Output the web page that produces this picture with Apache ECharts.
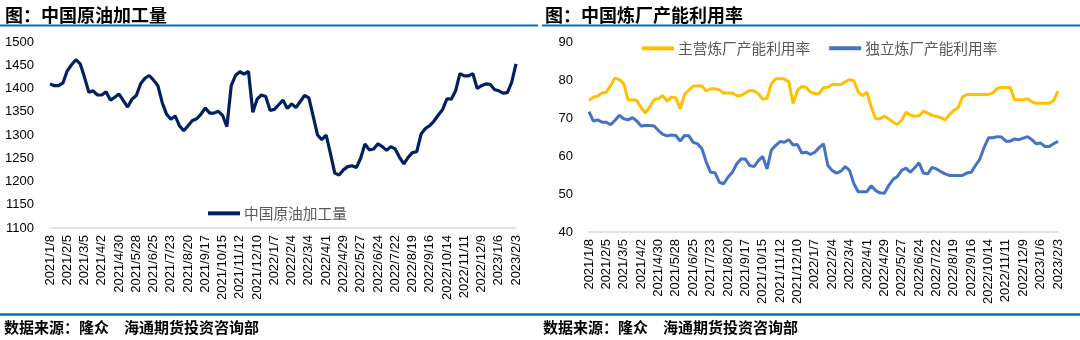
<!DOCTYPE html>
<html>
<head>
<meta charset="utf-8">
<script src="https://cdn.jsdelivr.net/npm/echarts@6/dist/echarts.min.js"></script>
<style>
html,body{margin:0;padding:0;background:#fff;}
#c{width:1080px;height:340px;}
</style>
</head>
<body>
<div id="c"></div>
<script>
var dates = [
"2021/1/8","2021/1/15","2021/1/22","2021/1/29","2021/2/5","2021/2/12","2021/2/19","2021/2/26",
"2021/3/5","2021/3/12","2021/3/19","2021/3/26","2021/4/2","2021/4/9","2021/4/16","2021/4/23",
"2021/4/30","2021/5/7","2021/5/14","2021/5/21","2021/5/28","2021/6/4","2021/6/11","2021/6/18",
"2021/6/25","2021/7/2","2021/7/9","2021/7/16","2021/7/23","2021/7/30","2021/8/6","2021/8/13",
"2021/8/20","2021/8/27","2021/9/3","2021/9/10","2021/9/17","2021/9/24","2021/10/1","2021/10/8",
"2021/10/15","2021/10/22","2021/10/29","2021/11/5","2021/11/12","2021/11/19","2021/11/26","2021/12/3",
"2021/12/10","2021/12/17","2021/12/24","2021/12/31",
"2022/1/7","2022/1/14","2022/1/21","2022/1/28","2022/2/4","2022/2/11","2022/2/18","2022/2/25",
"2022/3/4","2022/3/11","2022/3/18","2022/3/25","2022/4/1","2022/4/8","2022/4/15","2022/4/22",
"2022/4/29","2022/5/6","2022/5/13","2022/5/20","2022/5/27","2022/6/3","2022/6/10","2022/6/17",
"2022/6/24","2022/7/1","2022/7/8","2022/7/15","2022/7/22","2022/7/29","2022/8/5","2022/8/12",
"2022/8/19","2022/8/26","2022/9/2","2022/9/9","2022/9/16","2022/9/23","2022/9/30","2022/10/7",
"2022/10/14","2022/10/21","2022/10/28","2022/11/4","2022/11/11","2022/11/18","2022/11/25","2022/12/2",
"2022/12/9","2022/12/16","2022/12/23","2022/12/30",
"2023/1/6","2023/1/13","2023/1/20","2023/1/27","2023/2/3"
];

var crudeRuns = [
1410,1406,1406,1412,1438,1451,1462,1453,1424,1392,
1395,1386,1386,1393,1375,1381,1388,1374,1360,1377,
1385,1410,1422,1428,1418,1406,1370,1345,1334,1341,
1320,1309,1320,1331,1335,1345,1358,1347,1347,1351,
1342,1318,1406,1428,1436,1431,1437,1349,1377,1386,
1383,1353,1355,1365,1375,1357,1367,1359,1372,1385,
1380,1340,1300,1290,1300,1260,1218,1214,1225,1232,
1234,1230,1250,1281,1268,1270,1281,1275,1267,1275,
1270,1252,1238,1252,1262,1264,1302,1314,1320,1330,
1343,1355,1378,1377,1395,1432,1427,1427,1432,1400,
1406,1410,1409,1398,1395,1390,1391,1413,1453
];

var majorRate = [
74.6,75.5,75.8,76.6,76.8,78.6,80.5,80.1,79.0,74.8,
74.8,74.6,72.7,71.3,73.0,74.8,75.1,75.9,74.4,75.5,
75.3,72.4,76.2,77.3,78.4,78.4,78.4,77.1,77.7,77.7,
77.4,76.6,76.6,76.6,75.9,75.9,76.6,77.3,77.1,76.4,
74.9,75.2,79.0,80.3,80.3,80.3,79.5,73.8,77.3,78.3,
78.1,76.8,76.4,76.4,78.0,78.1,78.8,78.8,78.8,79.5,
80.1,79.8,76.8,75.9,76.8,72.9,69.8,69.8,70.5,69.8,
68.9,68.3,69.4,71.5,70.8,70.5,70.5,71.8,71.3,70.7,
70.4,70.1,69.5,70.9,72.0,72.7,75.5,76.2,76.2,76.2,
76.2,76.2,76.2,76.6,77.8,78.0,78.0,78.0,74.8,74.8,
74.8,75.1,74.2,73.9,73.9,73.9,73.9,74.6,77.1
];

var independentRate = [
71.7,69.2,69.5,68.9,68.9,68.2,69.4,70.7,69.8,69.5,
70.1,69.2,67.9,68.0,68.0,67.9,66.7,65.7,65.3,65.5,
65.4,63.9,65.4,65.3,63.6,63.2,61.9,58.4,55.7,55.6,
53.1,52.7,54.4,55.7,57.9,59.2,59.2,57.5,57.2,58.8,
59.9,56.6,61.6,62.8,63.8,63.6,64.3,62.9,63.0,60.8,
61.0,60.4,61.0,62.2,63.2,57.5,56.2,55.5,56.0,57.2,
56.2,52.7,50.6,50.6,50.6,52.2,50.9,50.3,50.2,52.2,
53.8,54.6,56.2,56.8,55.7,56.9,58.2,55.5,55.3,57.0,
56.6,55.9,55.3,54.9,54.9,54.9,54.9,55.5,55.7,57.5,
59.2,62.3,64.8,64.8,65.1,65.0,63.9,63.9,64.5,64.3,
64.7,65.1,64.3,63.2,63.4,62.5,62.5,63.2,63.9
];

var leftTitle = "图：中国原油加工量";
var rightTitle = "图：中国炼厂产能利用率";
var sourceText = "数据来源：隆众　海通期货投资咨询部";
var nameCrude = "中国原油加工量";
var nameMajor = "主营炼厂产能利用率";
var nameIndep = "独立炼厂产能利用率";

var NUM_FONT = "Liberation Sans, Arial, sans-serif";
var CJK_FONT = "Noto Sans CJK SC, sans-serif";

var chart = echarts.init(document.getElementById('c'), null, {renderer: 'canvas'});

function xAxisCfg(gi) {
  return {
    type: 'category', gridIndex: gi, data: dates, boundaryGap: false,
    axisLine: {show: true, lineStyle: {color: '#D9D9D9', width: 1.5}},
    axisTick: {show: false},
    splitLine: {show: false},
    axisLabel: {interval: 3, rotate: 90, margin: 7, fontSize: 13, color: '#000', fontFamily: NUM_FONT}
  };
}
function plain(v) { return String(v); }

var titleStyle = {fontFamily: CJK_FONT, fontSize: 18, fontWeight: 'bold', color: '#000'};
var footStyle = {fontFamily: CJK_FONT, fontSize: 15, fontWeight: 'bold', color: '#000'};

var option = {
  animation: false,
  backgroundColor: '#fff',
  title: [
    {text: leftTitle, left: 5, top: 6, padding: 0, textStyle: titleStyle},
    {text: rightTitle, left: 545, top: 6, padding: 0, textStyle: titleStyle},
    {text: sourceText, left: 4, top: 320, padding: 0, textStyle: footStyle},
    {text: sourceText, left: 543, top: 320, padding: 0, textStyle: footStyle}
  ],
  graphic: [
    {type: 'line', shape: {x1: 0, y1: 25.5, x2: 538, y2: 25.5}, style: {stroke: '#0070C0', lineWidth: 2}},
    {type: 'line', shape: {x1: 542, y1: 25.5, x2: 1080, y2: 25.5}, style: {stroke: '#0070C0', lineWidth: 2}},
    {type: 'line', shape: {x1: 0, y1: 314.5, x2: 1080, y2: 314.5}, style: {stroke: '#0070C0', lineWidth: 2.5}}
  ],
  legend: [
    {data: [nameCrude], left: 203, top: 201, icon: 'rect', itemWidth: 32, itemHeight: 4, itemGap: 20,
     textStyle: {fontFamily: CJK_FONT, fontSize: 14.7, color: '#595959', padding: [0,0,0,-1]}},
    {data: [nameMajor, nameIndep], left: 637, top: 36, icon: 'rect', itemWidth: 32, itemHeight: 4, itemGap: 19,
     textStyle: {fontFamily: CJK_FONT, fontSize: 14.7, color: '#595959', padding: [0,0,0,-1]}}
  ],
  grid: [
    {left: 50, right: 564, top: 42, bottom: 112},
    {left: 589, right: 22, top: 42, bottom: 108}
  ],
  xAxis: [xAxisCfg(0), xAxisCfg(1)],
  yAxis: [
    {type: 'value', gridIndex: 0, min: 1100, max: 1500, interval: 50,
     axisLine: {show: false}, axisTick: {show: false}, splitLine: {show: false},
     axisLabel: {margin: 16, fontSize: 13, color: '#000', fontFamily: NUM_FONT, formatter: plain}},
    {type: 'value', gridIndex: 1, min: 40, max: 90, interval: 10,
     axisLine: {show: false}, axisTick: {show: false}, splitLine: {show: false},
     axisLabel: {margin: 16, fontSize: 13, color: '#000', fontFamily: NUM_FONT, formatter: plain}}
  ],
  series: [
    {name: nameCrude, type: 'line', xAxisIndex: 0, yAxisIndex: 0, data: crudeRuns, showSymbol: false, symbol: 'none',
     lineStyle: {color: '#002060', width: 3.2}, itemStyle: {color: '#002060'}},
    {name: nameMajor, type: 'line', xAxisIndex: 1, yAxisIndex: 1, data: majorRate, showSymbol: false, symbol: 'none',
     lineStyle: {color: '#FFC000', width: 3}, itemStyle: {color: '#FFC000'}},
    {name: nameIndep, type: 'line', xAxisIndex: 1, yAxisIndex: 1, data: independentRate, showSymbol: false, symbol: 'none',
     lineStyle: {color: '#4472C4', width: 3}, itemStyle: {color: '#4472C4'}}
  ]
};
chart.setOption(option);
</script>
</body>
</html>
